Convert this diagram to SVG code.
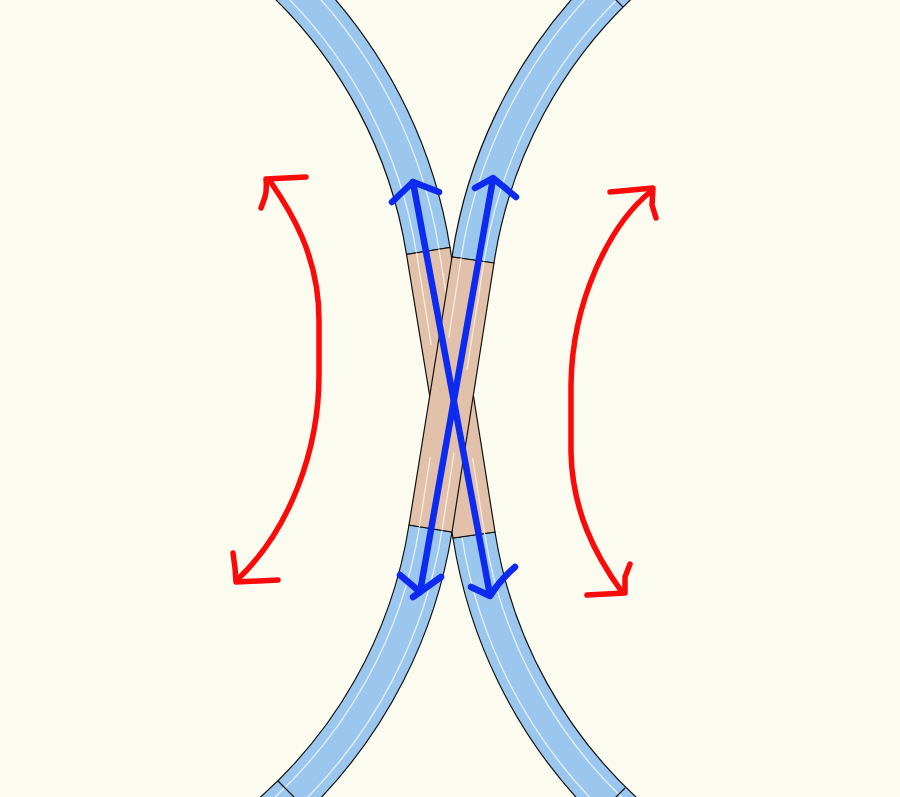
<svg xmlns="http://www.w3.org/2000/svg" width="900" height="797" viewBox="0 0 900 797">
<style>
.blue{fill:#9bc7ef;stroke:#111;stroke-width:1.2}
.tan{fill:#e1c1a9;stroke:#111;stroke-width:1.2}
.rail{fill:none;stroke:#e4f1fb;stroke-width:1.3}
.railt{fill:none;stroke:#f8ecdf;stroke-width:1.3}
.joint{fill:none;stroke:#111;stroke-width:1.2}
.red{fill:none;stroke:#fb0a0a;stroke-width:5.5;stroke-linecap:round;stroke-linejoin:round}
.bl{fill:none;stroke:#0c2af0;stroke-width:6.5;stroke-linecap:round;stroke-linejoin:round}
</style>
<rect width="900" height="797" fill="#fbfbf0"/>
<g id="track-top-left">
<path class="blue" d="M406.5 254.4A459 459 0 0 0 265.7 -10L327 -10A503 503 0 0 1 450 247.5Z"/>
<path class="rail" d="M416.3 252.8A469 469 0 0 0 280 -10M439 249.2A492 492 0 0 0 312 -10"/>
</g>
<g id="track-top-right">
<path class="blue" d="M452 257A503 503 0 0 1 580 -10L641 -10A460 460 0 0 0 494 263Z"/>
<path class="rail" d="M461.1 258.2A493 493 0 0 1 594 -10M483.9 261.6A470 470 0 0 1 627 -10"/>
<path class="joint" d="M623 7L610 -6"/>
</g>
<g id="track-bottom-left">
<path class="blue" d="M409 525A460 460 0 0 1 249 807L312 807A503 503 0 0 0 452 532Z"/>
<path class="rail" d="M419.4 526.8A470 470 0 0 1 264 807M442 530.4A493 493 0 0 1 298 807"/>
<path class="joint" d="M278 781L308 811"/>
</g>
<g id="track-bottom-right">
<path class="blue" d="M453 538A503 503 0 0 0 585 807L647 807A460 460 0 0 1 495 532Z"/>
<path class="rail" d="M462 537.4A493 493 0 0 0 599 807M484.6 533.8A470 470 0 0 0 632 807"/>
<path class="joint" d="M625 788L595 818"/>
</g>
<g id="crossing-a">
<path class="tan" d="M406.5 254.4L453 538L495 532L450 247.5Z"/>
<path class="railt" d="M416.5 252.8L431.2 345M439 249.2L447 300M472.5 458L484.6 533.8"/>
</g>
<g id="crossing-b">
<path class="tan" d="M452 257L409 525L452 532L494 263Z"/>
<path class="railt" d="M461.1 258.2L448.7 338M430.2 457L419.4 526.8M483.9 261.6L467 370M454 453L442 530.4"/>
</g>
<g id="connectors">
<g id="red-left">
<path class="red" d="M270 181C290 210 319 255 319 320L319 375C319 450 290 530 237 580"/>
<path class="red" d="M306 177L266 179Q267 190 265 197L261 208M278 580L236 582L235 568L233 553"/>
</g>
<g id="red-right">
<path class="red" d="M650 192C610 225 572 300 571 385L571 452C572 510 595 555 622 592"/>
<path class="red" d="M610 192L653 188L652 205L656 218M587 595L625 593L625 577L630 564"/>
</g>
<g id="blue-arrows">
<path class="bl" d="M413 182L490 595"/>
<path class="bl" d="M493 179L420 592"/>
<path class="bl" d="M392 202L413 182L439 192M475 188L493 178L516 197"/>
<path class="bl" d="M471 587L490 596Q500 580 515 567M400 575L420 592M441 577L413 597"/>
</g>
</g>
</svg>
